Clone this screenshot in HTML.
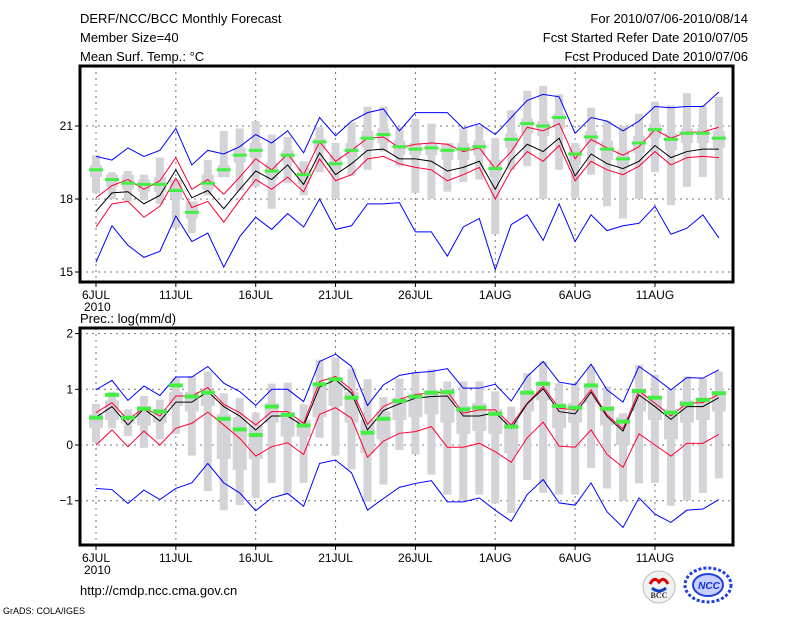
<!DOCTYPE html>
<html><head><meta charset="utf-8">
<style>
body{margin:0;background:#fff;}
svg{display:block;font-family:"Liberation Sans",sans-serif;}
</style></head>
<body>
<svg id="chart" width="800" height="618" viewBox="0 0 800 618">
<g font-size="13" fill="#000">
<text x="80" y="23">DERF/NCC/BCC Monthly Forecast</text>
<text x="80" y="42">Member Size=40</text>
<text x="80" y="61">Mean Surf. Temp.: °C</text>
<text x="748" y="23" text-anchor="end">For 2010/07/06-2010/08/14</text>
<text x="748" y="42" text-anchor="end">Fcst Started Refer Date 2010/07/05</text>
<text x="748" y="61" text-anchor="end">Fcst Produced Date 2010/07/06</text>
<text x="80" y="323">Prec.: log(mm/d)</text>
<text x="80" y="595">http://cmdp.ncc.cma.gov.cn</text>
<text x="3" y="614" font-size="9">GrADS: COLA/IGES</text>
</g>
<g>
<circle cx="659" cy="587" r="16" fill="#f2f2f2" stroke="#bbb"/>
<path d="M650 584 q4 -8 9 -2 q5 -6 9 2" stroke="#d00" stroke-width="3" fill="none"/>
<path d="M652 588 q7 6 14 0" stroke="#1040c0" stroke-width="3" fill="none"/>
<text x="659" y="598" font-size="8" text-anchor="middle" font-family="Liberation Serif,serif" font-weight="bold" fill="#333">BCC</text>
</g>
<g>
<ellipse cx="708" cy="585" rx="23" ry="17" fill="none" stroke="#2040e0" stroke-width="3" stroke-dasharray="3 2"/>
<ellipse cx="708" cy="585" rx="15" ry="11" fill="#c8d0ff" stroke="#2040e0" stroke-width="2"/>
<text x="709" y="589" font-size="10" text-anchor="middle" font-style="italic" font-weight="bold" fill="#1030d0">NCC</text>
</g>
<g id="top"></g>
<g id="bot"></g>
</svg>
<script>
const days = Array.from({length:40},(_, i)=>i);
const tickDays=[0,5,10,15,20,25,30,35];
const tickLabels=["6JUL","11JUL","16JUL","21JUL","26JUL","1AUG","6AUG","11AUG"];
// Temperature panel
const tMax=[19.75,19.6,20.1,19.75,20.0,20.9,19.4,20.0,19.85,20.15,20.65,20.3,20.8,19.9,21.35,20.6,21.2,21.55,21.7,20.8,21.55,21.55,21.55,20.9,21.1,20.65,21.35,22.05,22.3,22.2,20.7,21.35,21.2,20.8,21.2,21.8,21.75,21.8,21.8,22.4];
const tMin=[15.4,16.9,16.1,15.6,15.85,17.3,16.25,16.6,15.2,16.45,17.25,16.75,17.4,16.85,18.0,16.75,16.9,17.8,17.8,17.85,16.65,16.65,15.65,16.85,17.2,15.1,16.95,17.35,16.3,17.8,16.25,17.35,16.7,16.9,17.0,17.7,16.55,16.8,17.35,16.4];
const tMean=[17.5,18.25,18.3,17.8,18.15,19.2,18.05,18.35,17.6,18.4,19.15,18.8,19.4,18.6,19.9,19.0,19.45,20.0,20.05,19.65,19.65,19.55,19.15,19.3,19.55,18.4,19.6,20.25,19.95,20.5,18.95,19.85,19.45,19.25,19.55,20.2,19.7,19.95,20.05,20.05];
const tUp=[18.05,18.55,18.8,18.4,18.75,19.7,18.4,18.8,18.2,18.9,19.65,19.2,19.85,19.0,20.35,19.55,20.0,20.5,20.55,20.1,20.25,20.3,20.25,19.95,20.1,19.25,19.95,20.95,20.8,21.1,19.65,20.45,20.1,19.8,20.15,20.85,20.5,20.75,20.75,20.95];
const tLo=[16.85,17.8,17.9,17.25,17.7,18.85,17.65,17.9,17.05,17.95,18.8,18.4,18.9,18.3,19.65,18.75,19.0,19.65,19.75,19.45,19.3,19.2,18.75,19.0,19.3,18.0,19.2,19.95,19.55,20.2,18.75,19.55,19.2,19.0,19.35,19.95,19.4,19.7,19.75,19.7];
const tObs=[19.2,18.8,18.65,18.6,18.6,18.35,17.45,18.65,19.2,19.8,20.0,19.15,19.8,19.0,20.35,19.45,20.0,20.5,20.65,20.15,20.05,20.1,20.0,20.05,20.15,19.25,20.45,21.1,21.0,21.35,19.85,20.55,20.05,19.65,20.3,20.85,20.45,20.7,20.7,20.5];
const tWHi=[19.8,19.1,19.15,19.0,19.7,18.5,17.6,19.6,20.8,20.9,21.2,20.65,20.55,19.55,20.95,20.3,21.15,21.8,21.8,20.95,21.3,21.1,20.25,20.9,21.0,20.5,21.65,22.45,22.65,22.3,20.3,21.75,21.2,21.0,21.5,22.0,21.85,22.35,21.85,22.2];
const tWLo=[18.25,18.0,17.9,17.95,17.8,16.8,16.6,18.15,18.9,18.35,18.5,17.6,18.65,18.15,19.1,18.0,18.95,19.2,19.95,19.35,18.25,18.0,18.3,18.7,18.8,16.55,19.2,19.35,18.0,19.2,18.05,19.0,17.7,17.2,18.0,19.1,17.75,18.5,18.9,18.0];
const tBHi=[19.4,19.0,19.0,18.8,18.9,18.8,17.9,19.0,19.4,20.1,20.3,19.5,20.0,19.3,20.5,19.8,20.3,20.8,20.9,20.4,20.3,20.3,20.3,20.3,20.4,19.6,20.7,21.3,21.2,21.5,20.1,20.8,20.4,20.0,20.6,21.1,20.7,20.9,20.9,20.8];
const tBLo=[18.9,18.5,18.4,18.3,18.3,18.0,17.2,18.4,18.9,19.5,19.7,18.8,19.5,18.6,20.0,19.1,19.7,20.1,20.3,19.8,19.8,19.8,19.6,19.6,19.8,18.9,20.1,20.7,20.6,20.9,19.4,20.2,19.6,19.3,19.9,20.5,20.0,20.3,20.3,20.1];
const tTicks=[15,18,21];
// Precipitation panel
const pMax=[0.99,1.16,0.8,1.06,0.89,1.22,1.22,1.41,1.11,0.96,0.71,1.0,1.0,0.78,1.5,1.63,1.41,0.71,1.08,1.25,1.3,1.32,1.37,1.02,1.02,1.09,0.79,1.23,1.5,1.13,1.08,1.45,0.99,0.77,1.41,1.21,0.99,1.21,1.2,1.35];
const pMin=[-0.78,-0.8,-1.05,-0.81,-0.98,-0.78,-0.68,-0.33,-0.68,-0.86,-1.18,-0.95,-0.87,-1.1,-0.33,-0.27,-0.5,-1.17,-0.96,-0.76,-0.69,-0.64,-1.02,-1.02,-0.95,-1.17,-1.37,-0.89,-0.62,-1.04,-1.08,-0.68,-1.2,-1.48,-0.95,-1.24,-1.39,-1.17,-1.15,-0.98];
const pMean=[0.5,0.69,0.36,0.65,0.43,0.77,0.77,0.96,0.69,0.52,0.27,0.52,0.52,0.34,1.04,1.17,0.93,0.27,0.62,0.74,0.84,0.87,0.88,0.52,0.52,0.58,0.3,0.74,1.01,0.6,0.56,0.95,0.51,0.25,0.9,0.69,0.46,0.69,0.69,0.85];
const pUp=[0.58,0.76,0.45,0.67,0.52,0.88,0.88,1.03,0.73,0.58,0.36,0.6,0.6,0.39,1.14,1.23,0.99,0.37,0.69,0.82,0.91,0.93,0.96,0.57,0.63,0.63,0.36,0.75,1.05,0.66,0.63,0.99,0.54,0.29,0.97,0.75,0.52,0.75,0.76,0.91];
const pLo=[0.0,0.27,-0.03,0.25,0.0,0.3,0.39,0.59,0.36,0.12,-0.2,-0.03,0.04,-0.17,0.55,0.67,0.48,-0.22,0.07,0.21,0.24,0.33,-0.04,-0.04,0.03,-0.12,-0.31,0.13,0.41,-0.02,-0.04,0.27,-0.17,-0.4,0.2,0.0,-0.2,0.03,0.03,0.19];
const pObs=[0.49,0.9,0.49,0.65,0.6,1.07,0.87,0.94,0.47,0.28,0.18,0.69,0.54,0.35,1.09,1.18,0.85,0.22,0.47,0.79,0.87,0.94,0.95,0.64,0.67,0.56,0.33,0.94,1.1,0.7,0.67,1.07,0.65,0.42,0.97,0.85,0.58,0.74,0.81,0.93];
const pWHi=[0.74,0.95,0.64,0.88,0.81,1.2,1.24,1.32,0.93,0.84,0.58,1.1,1.12,0.73,1.53,1.57,1.37,1.18,0.86,1.19,1.31,1.36,1.14,1.14,1.14,0.96,0.69,1.29,1.5,1.11,1.11,1.41,1.05,0.57,1.44,1.26,1.0,1.23,1.2,1.32];
const pWLo=[0.04,0.3,0.16,-0.05,0.1,0.2,-0.19,-0.83,-1.17,-1.08,-0.95,-0.68,-0.89,-0.68,0.13,-0.19,-0.44,-1.02,-0.71,-0.09,-0.17,-0.53,-0.89,-1.0,-0.89,-1.05,-1.22,-0.63,-0.86,-0.89,-0.89,-0.41,-0.78,-1.0,-0.69,-0.68,-1.09,-1.0,-0.86,-0.6];
const pBHi=[0.55,0.8,0.55,0.7,0.65,0.95,0.95,0.9,0.55,0.5,0.35,0.75,0.6,0.45,1.05,1.15,0.95,0.45,0.6,0.85,0.9,0.95,0.95,0.7,0.75,0.65,0.45,0.95,1.1,0.75,0.75,1.05,0.7,0.5,0.95,0.85,0.65,0.8,0.85,0.95];
const pBLo=[0.3,0.45,0.4,0.35,0.4,0.7,0.6,0.7,-0.25,-0.45,-0.25,0.4,0.15,0.15,0.5,0.7,0.4,-0.15,0.1,0.45,0.5,0.55,0.4,0.2,0.25,0.2,-0.15,0.6,0.8,0.3,0.4,0.75,0.35,0.0,0.6,0.45,0.1,0.4,0.45,0.6];
const pTicks=[-1,0,1,2];

const NS="http://www.w3.org/2000/svg";
function mk(parent,tag,attrs){const e=document.createElementNS(NS,tag);for(const k in attrs)e.setAttribute(k,attrs[k]);parent.appendChild(e);return e;}
const xs=d=>96+15.97*d;

function panel(g,top,bottom,yv,ticks,wHi,wLo,bHi,bLo,obs,mx,mn,up,lo,mean,boxW,obsH){
  const L=80,R=733;
  // grid
  tickDays.forEach(d=>{const l=mk(g,'line',{x1:xs(d),x2:xs(d),y1:top,y2:bottom,stroke:'#777','stroke-dasharray':'2 4','stroke-width':1});
    
    });
  ticks.forEach(v=>{const y=yv(v);if(y<=top+2||y>=bottom-2)return;const l=mk(g,'line',{x1:L,x2:R,y1:y,y2:y,stroke:'#777','stroke-dasharray':'2 4','stroke-width':1});
    
    });
  // bars
  days.forEach(d=>{
    const x=xs(d);
    const w=mk(g,'rect',{x:x-4,y:yv(wHi[d]),width:8,height:yv(wLo[d])-yv(wHi[d]),fill:'#d3d3d8'});
    
    
    const b=mk(g,'rect',{x:x-boxW/2,y:yv(bHi[d]),width:boxW,height:yv(bLo[d])-yv(bHi[d]),fill:'#d3d3d8'});
    
    
  });
  const line=(arr,col,name)=>{const p=mk(g,'polyline',{points:arr.map((v,d)=>xs(d)+','+yv(v)).join(' '),fill:'none',stroke:col,'stroke-width':1});
    
    };
  line(mx,'#0000ff','max-line');line(mn,'#0000ff','min-line');
  line(up,'#ff0033','upper-line');line(lo,'#ff0033','lower-line');
  line(mean,'#000','mean-line');
  days.forEach(d=>{const r=mk(g,'rect',{x:xs(d)-7,y:yv(obs[d])-obsH/2,width:14,height:obsH,fill:'#44ee44'});
    
    });
  // frame
  const f=mk(g,'rect',{x:L,y:top,width:R-L,height:bottom-top,fill:'none',stroke:'#000','stroke-width':3});
  
  
  ticks.forEach(v=>{const y=yv(v);
    const t=mk(g,'line',{x1:L-5,x2:L,y1:y,y2:y,stroke:'#000'});
    
    
    const tx=mk(g,'text',{x:L-7,y:y+4,'text-anchor':'end','font-size':12});tx.textContent=v<0?'\u2212'+(-v):String(v);
    
    });
  tickDays.forEach((d,i)=>{
    const t=mk(g,'line',{x1:xs(d),x2:xs(d),y1:bottom,y2:bottom+5,stroke:'#000'});
    
    
    const tx=mk(g,'text',{x:xs(d),y:bottom+17,'text-anchor':'middle','font-size':12});tx.textContent=tickLabels[i];
    
    });
  const yr=mk(g,'text',{x:84,y:bottom+29,'font-size':12});yr.textContent='2010';
  
  
}
const tg=document.getElementById('top');


panel(tg,66,282,v=>199-(v-18)*24.33,tTicks,tWHi,tWLo,tBHi,tBLo,tObs,tMax,tMin,tUp,tLo,tMean,12,3);
const bg=document.getElementById('bot');


panel(bg,328,545,v=>445-55.7*v,pTicks,pWHi,pWLo,pBHi,pBLo,pObs,pMax,pMin,pUp,pLo,pMean,14,4);
</script>
</body></html>
